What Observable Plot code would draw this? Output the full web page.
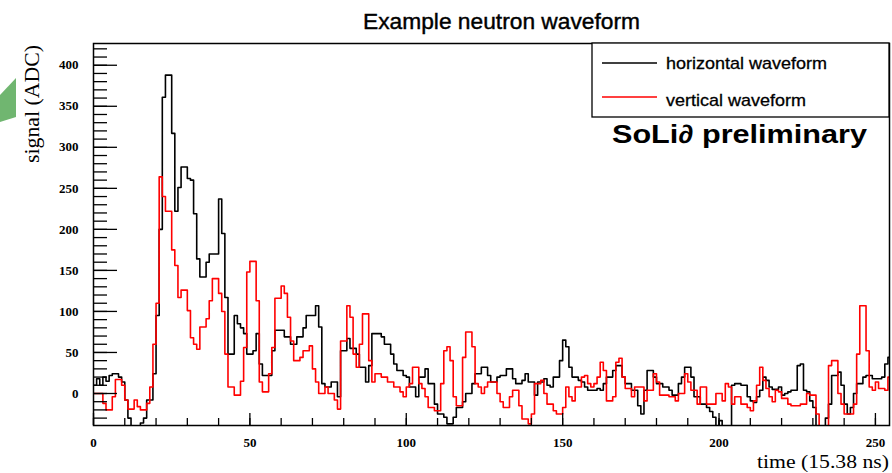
<!DOCTYPE html>
<html>
<head>
<meta charset="utf-8">
<script src="https://cdn.jsdelivr.net/npm/d3@7"></script>
<script src="https://cdn.jsdelivr.net/npm/@observablehq/plot@0.6"></script>
<style>
  html, body { margin: 0; padding: 0; background: #ffffff; }
  #chart { width: 892px; height: 473px; }
</style>
</head>
<body>
<div id="chart"></div>
<script>
// ---- Data (ADC counts per sample) ----
const horizontalWaveform = [
  10,18,10,20,15,22,24,24,20,14,
  -8,-30,-42,-42,-42,-36,-30,-8,-8,24,
  95,200,361,388,388,317,222,251,276,276,
  262,260,219,164,142,142,160,170,170,170,
  237,195,117,48,48,95,85,80,73,48,
  48,52,73,36,22,22,22,52,77,77,
  77,69,69,60,60,69,69,80,95,95,
  95,107,81,12,8,8,14,14,-4,52,
  52,67,55,55,48,32,32,14,34,73,
  73,73,69,60,60,48,36,28,28,22,
  20,8,8,-4,20,20,30,12,12,-13,
  -25,-25,-29,-37,-37,-29,-17,-17,-10,0,
  0,12,24,24,32,32,22,14,14,20,
  22,22,30,30,18,12,12,16,24,14,
  14,-2,14,14,18,10,8,20,20,40,
  65,57,32,20,20,16,14,8,4,4,
  4,6,4,12,20,20,28,34,34,20,
  12,12,4,4,-15,-25,4,28,28,20,
  12,12,8,8,4,-2,-2,12,20,32,
  32,20,-4,-4,-13,-13,-17,-22,-29,-42,
  -33,-42,-42,-42,10,12,12,10,10,-4,
  -9,-11,-4,4,20,16,8,5,5,8,
  -2,0,2,4,4,34,36,4,2,-9,
  -17,-42,-42,-42,-30,-13,22,22,26,10,
  -13,-25,-17,0,12,12,20,22,22,18,
  18,18,20,36,44,44
];
const verticalWaveform = [
  0,0,0,-12,-20,-20,-4,17,17,10,
  -8,-19,-19,-8,-16,-20,-20,-12,8,60,
  110,264,240,222,222,175,156,117,126,126,
  101,68,60,54,81,81,91,113,140,140,
  122,100,48,8,8,-2,-2,15,56,148,
  161,161,113,14,2,2,24,56,116,116,
  131,122,93,64,40,40,44,52,52,58,
  30,14,0,0,8,0,0,-8,-19,64,
  64,107,93,48,32,60,97,97,40,14,
  24,24,20,20,14,14,8,8,2,-4,
  8,12,32,32,12,6,-4,-17,-17,-21,
  -21,12,52,57,40,-4,-15,-15,44,75,
  75,57,12,8,0,8,14,14,14,0,
  -10,-17,-17,-4,4,4,-15,-31,-31,-37,
  -25,12,12,16,0,-13,-13,-21,-25,-25,
  -17,8,-4,-9,8,8,20,22,12,8,
  12,20,38,28,-9,-9,-4,38,43,20,
  6,6,-4,8,8,8,-9,4,4,24,
  14,-2,-2,-2,-4,-4,-9,0,0,24,
  14,4,4,-13,8,8,-13,-13,-13,0,
  0,-9,12,8,-13,-4,-4,-13,-13,-17,
  -21,-9,10,32,16,6,-4,-10,4,2,
  -6,-6,-13,-15,-15,-15,-13,-13,0,-2,
  -2,-25,-42,-42,-42,34,40,40,0,-13,
  -25,-25,-25,-13,48,107,107,52,8,4,
  14,6,6,4,20,20
];
const xMajorTicks = [0, 50, 100, 150, 200, 250];
const xMinorTicks = d3.range(0, 251, 10);
const yMajorTicks = [0, 50, 100, 150, 200, 250, 300, 350, 400];
const yMinorTicks = d3.range(-30, 421, 10);
const seriesNames = ["horizontal waveform", "vertical waveform"];
const seriesColors = ["#000000", "#ff0000"];
const titleText = "Example neutron waveform";
const xLabel = "time (15.38 ns)";
const yLabel = "signal (ADC)";
const stampText = "SoLi\u2202 preliminary";

// histogram outline: one point per bin edge
const toSteps = (arr) => arr.map((v, i) => ({t: i, v})).concat([{t: arr.length, v: arr[arr.length - 1]}]);
const hData = toSteps(horizontalWaveform);
const vData = toSteps(verticalWaveform);

const serif = "'Liberation Serif', 'DejaVu Serif', serif";
const sans = "'Liberation Sans', Arial, sans-serif";

const plot = Plot.plot({
  width: 892,
  height: 473,
  marginLeft: 93,
  marginRight: 3,
  marginTop: 43,
  marginBottom: 48,
  x: {domain: [0, 254.5]},
  y: {domain: [-39, 426.5]},
  style: {fontFamily: serif, fontSize: "13px", color: "#000", background: "#fff", overflow: "visible"},
  marks: [
    Plot.line(hData, {x: "t", y: "v", curve: "step-after", stroke: seriesColors[0], strokeWidth: 1.6, clip: true}),
    Plot.line(vData, {x: "t", y: "v", curve: "step-after", stroke: seriesColors[1], strokeWidth: 1.6, clip: true}),
    Plot.axisY(yMinorTicks, {tickSize: -14, tickFormat: () => "", label: null, strokeWidth: 1.3}),
    Plot.axisY(yMajorTicks, {tickSize: -24, tickPadding: 39, label: null, strokeWidth: 1.3, fontWeight: "bold", fontSize: 13}),
    Plot.axisX(xMinorTicks, {tickSize: -7, tickFormat: () => "", label: null, strokeWidth: 1.3}),
    Plot.axisX(xMajorTicks, {tickSize: -12, tickPadding: 24, label: null, strokeWidth: 1.3, fontWeight: "bold", fontSize: 13}),
    Plot.frame({stroke: "#000", strokeWidth: 1.5})
  ]
});

document.getElementById("chart").appendChild(plot);

// ---- decorations: title, axis titles, legend, stamp ----
const svg = d3.select(plot);
const deco = svg.append("g").attr("text-anchor", "start");

// green slide-arrow fragment at left edge
deco.append("polygon")
  .attr("points", "0,95 16,78 16,117 0,122")
  .attr("fill", "#70b670");

deco.append("text")
  .attr("x", 363).attr("y", 29)
  .attr("text-anchor", "start")
  .attr("font-family", sans).attr("font-size", 22)
  .attr("textLength", 277).attr("lengthAdjust", "spacingAndGlyphs")
  .attr("fill", "#000").attr("stroke", "#000").attr("stroke-width", 0.4)
  .text(titleText);

deco.append("text")
  .attr("transform", "translate(39,163) rotate(-90)")
  .attr("text-anchor", "start")
  .attr("font-family", serif).attr("font-size", 20)
  .attr("textLength", 118).attr("lengthAdjust", "spacingAndGlyphs")
  .attr("fill", "#000")
  .text(yLabel);

deco.append("text")
  .attr("x", 757).attr("y", 468)
  .attr("text-anchor", "start")
  .attr("font-family", serif).attr("font-size", 19)
  .attr("textLength", 132).attr("lengthAdjust", "spacingAndGlyphs")
  .attr("fill", "#000")
  .text(xLabel);

// legend box
const leg = deco.append("g");
leg.append("rect")
  .attr("x", 592).attr("y", 43).attr("width", 297).attr("height", 74)
  .attr("fill", "#fff").attr("stroke", "#000").attr("stroke-width", 1.3);
const legendRows = [
  {name: seriesNames[0], color: seriesColors[0], ly: 63, ty: 68.5, len: 161},
  {name: seriesNames[1], color: seriesColors[1], ly: 97, ty: 105.5, len: 140}
];
legendRows.forEach(r => {
  leg.append("line")
    .attr("x1", 602).attr("x2", 657).attr("y1", r.ly).attr("y2", r.ly)
    .attr("stroke", r.color).attr("stroke-width", 1.5);
  leg.append("text")
    .attr("x", 666).attr("y", r.ty)
    .attr("text-anchor", "start")
    .attr("font-family", sans).attr("font-size", 17)
    .attr("textLength", r.len).attr("lengthAdjust", "spacingAndGlyphs")
    .attr("fill", "#000").attr("stroke", "#000").attr("stroke-width", 0.3)
    .text(r.name);
});

deco.append("text")
  .attr("x", 612).attr("y", 143)
  .attr("text-anchor", "start")
  .attr("font-family", sans).attr("font-size", 26).attr("font-weight", "bold")
  .attr("textLength", 255).attr("lengthAdjust", "spacingAndGlyphs")
  .attr("fill", "#000")
  .text(stampText);
</script>
</body>
</html>
